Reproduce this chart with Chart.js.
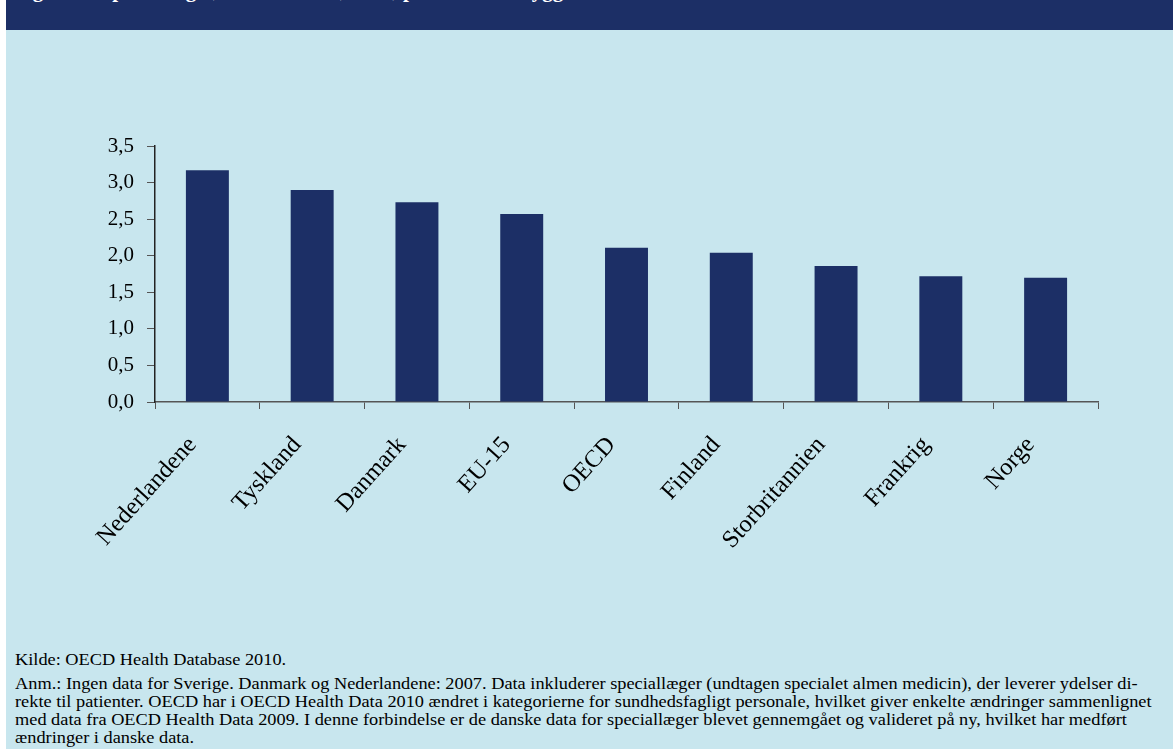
<!DOCTYPE html>
<html><head><meta charset="utf-8">
<script src="https://cdn.jsdelivr.net/npm/chart.js@4"></script>
<style>
html,body{margin:0;padding:0;background:#fff;width:1173px;height:749px;overflow:hidden;}
#panel{position:absolute;left:6px;top:0;width:1167px;height:749px;background:#C8E6EE;overflow:hidden;}
#header{position:absolute;left:0;top:0;width:1167px;height:30px;background:#1C2F66;overflow:hidden;}
#title{position:absolute;left:8px;top:-22px;font:bold 21px "Liberation Serif",serif;color:#fff;white-space:nowrap;}
#wrap{position:absolute;left:0;top:30px;width:1167px;height:560px;}
#foot{position:absolute;left:9px;top:651px;font:16px "Liberation Serif",serif;color:#000;line-height:18px;white-space:nowrap;transform:scaleX(1.145);transform-origin:0 0;}
#foot .l1{margin-bottom:6px;}
</style></head><body>
<div id="panel">
<div id="header"><div id="title">Figur 3.3 Speciallæger, OECD-lande, 2008, per 1.000 indbyggere</div></div>
<div id="wrap"><canvas id="c"></canvas></div>
<div id="foot"><div class="l1">Kilde: OECD Health Database 2010.</div>Anm.: Ingen data for Sverige. Danmark og Nederlandene: 2007. Data inkluderer speciallæger (undtagen specialet almen medicin), der leverer ydelser di-<br>rekte til patienter. OECD har i OECD Health Data 2010 ændret i kategorierne for sundhedsfagligt personale, hvilket giver enkelte ændringer sammenlignet<br>med data fra OECD Health Data 2009. I denne forbindelse er de danske data for speciallæger blevet gennemgået og valideret på ny, hvilket har medført<br>ændringer i danske data.</div>
</div>
<script>
const categories = ["Nederlandene","Tyskland","Danmark","EU-15","OECD","Finland","Storbritannien","Frankrig","Norge"];
const values = [3.17, 2.90, 2.73, 2.57, 2.11, 2.04, 1.86, 1.72, 1.70];
const yTicks = [0,0.5,1,1.5,2,2.5,3,3.5];

new Chart(document.getElementById('c'), {
  type: 'bar',
  data: { labels: categories, datasets: [{ data: values, backgroundColor: '#1C2F66', barPercentage: 0.82, categoryPercentage: 0.5 }] },
  options: {
    responsive: true, maintainAspectRatio: false, animation: false,
    layout: { padding: { top: 116, right: 75, left: 0, bottom: 0 } },
    plugins: { legend: { display: false }, tooltip: { enabled: false } },
    scales: {
      x: {
        offset: true,
        grid: { offset: true, drawOnChartArea: false, drawTicks: true, tickLength: 7, color: '#555', lineWidth: 1 },
        border: { color: '#555', width: 1.5 },
        ticks: { color: '#000', font: { family: 'Liberation Serif', size: 24.5 }, maxRotation: 48, minRotation: 48, padding: 22, labelOffset: -15 },
        afterFit: s => { s.height = 188; }
      },
      y: {
        min: 0, max: 3.5,
        afterBuildTicks: s => { s.ticks = yTicks.map(v => ({ value: v })); },
        grid: { drawOnChartArea: false, drawTicks: true, tickLength: 8, color: '#555' },
        border: { color: '#222', width: 1.5 },
        ticks: { color: '#000', font: { family: 'Liberation Serif', size: 21 }, padding: 13,
                 callback: v => v.toFixed(1).replace('.', ',') },
        afterFit: s => { s.width = 149; }
      }
    }
  }
});
</script>
</body></html>
